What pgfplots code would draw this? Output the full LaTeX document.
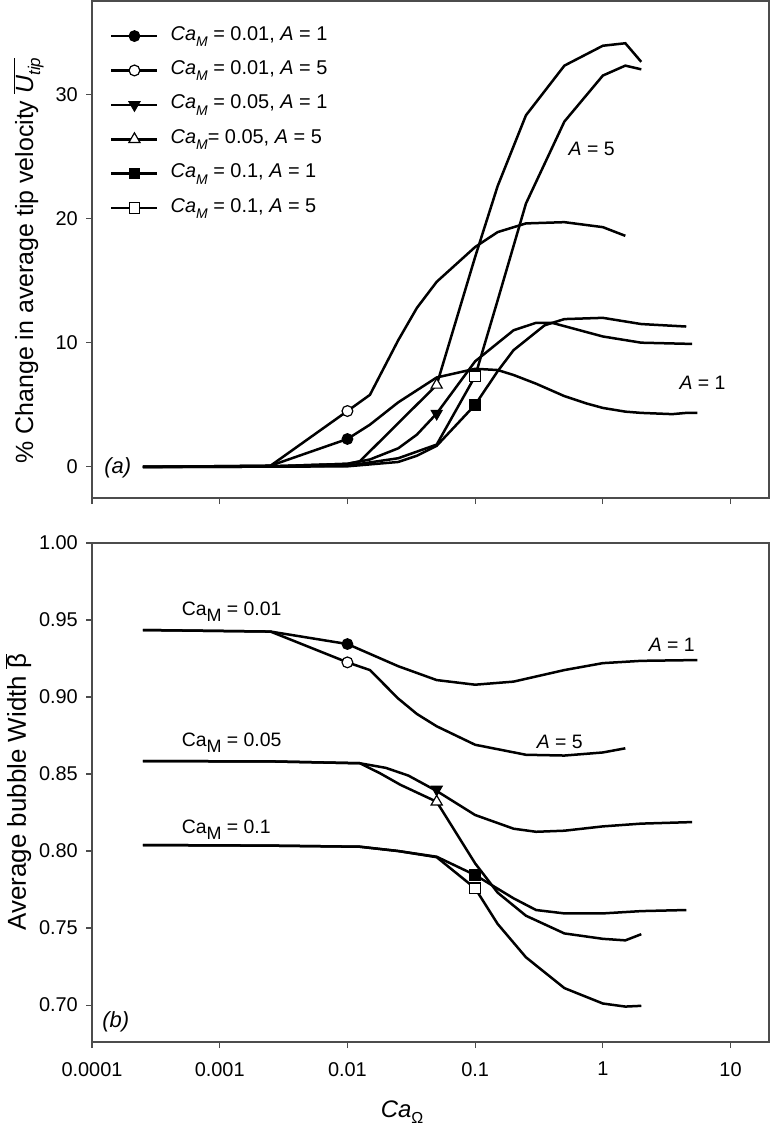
\documentclass[border=0pt]{standalone}
\usepackage{fontspec}
\setmainfont{Liberation Sans}
\usepackage{pgfplots}
\pgfplotsset{compat=1.18}
\newcommand{\lsub}[3]{\raisebox{-#3}{\fontsize{#1}{#1}\selectfont #2}}
\newcommand{\CaMit}{\textit{Ca}\lsub{14}{\textit{M}}{6.5bp}}
\newcommand{\CaMup}{Ca\lsub{18}{M}{6bp}}

\tikzset{
  mkfc/.style={mark=*, mark size=5.4bp, mark options={fill=black, draw=black, line width=1bp}},
  mkoc/.style={mark=*, mark size=5.4bp, mark options={fill=white, draw=black, line width=1.2bp}},
  mkft/.style={mark=triangle*, mark size=6.4bp, mark options={rotate=180, fill=black, draw=black, line width=1bp}},
  mkot/.style={mark=triangle*, mark size=6.4bp, mark options={fill=white, draw=black, line width=1.2bp}},
  mkfs/.style={mark=square*, mark size=5.3bp, mark options={fill=black, draw=black, line width=1bp}},
  mkos/.style={mark=square*, mark size=5.3bp, mark options={fill=white, draw=black, line width=1.2bp}},
}

\begin{document}
\begin{tikzpicture}
\useasboundingbox (0,0) rectangle (770bp,-1128bp);

% ---------------- panel (a) ----------------
\begin{axis}[at={(92bp,-498bp)}, anchor=south west,
  scale only axis, width=677bp, height=497bp,
  xmode=log, xmin=0.0001, xmax=20,
  xtick={0.0001,0.001,0.01,0.1,1,10}, xticklabels={},
  xminorticks=false, yminorticks=false,
  tick pos=left, tick align=outside, major tick length=6bp,
  axis line style={black!70, line width=1.1bp},
  every tick/.style={black!70, line width=1.1bp},
  tick label style={font=\fontsize{20}{22}\selectfont, inner sep=0pt},
  yticklabel style={xshift=-8bp},
  /pgf/number format/assume math mode=true,
  ymin=-2.5, ymax=37.5, ytick={0,10,20,30},
  ylabel={\% Change in average tip velocity $\overline{\mbox{\textit{U}\lsub{17}{\textit{tip}}{7bp}}}$},
  ylabel style={font=\fontsize{25}{30}\selectfont, at={(axis description cs:-0.0871,0.478)}, anchor=base},
  legend image code/.code={\draw[mark repeat=2, mark phase=2, #1] plot coordinates {(0bp,0bp) (23bp,0bp) (46bp,0bp)};},
  legend style={draw=none, fill=none, at={(axis description cs:0.0266,0.950)}, anchor=north west,
    inner sep=0pt, font=\fontsize{20}{22}\selectfont, row sep=14.4bp,
    nodes={inner sep=0pt, text height=14bp, text depth=6bp},
    /tikz/every odd column/.append style={column sep=12bp}},
  legend cell align=left]

\addplot[black, line width=2.5bp, forget plot] coordinates {(0.00025,0) (0.0025,0.1) (0.01,2.25) (0.015,3.4) (0.025,5.2) (0.05,7.2) (0.1,7.9) (0.15,7.8) (0.2,7.4) (0.3,6.7) (0.5,5.7) (0.75,5.1) (1,4.75) (1.5,4.45) (2,4.35) (3.5,4.25) (4.5,4.35) (5.5,4.35)};
\addplot[black, line width=2.5bp, forget plot] coordinates {(0.00025,0) (0.0025,0.1) (0.01,4.5) (0.015,5.8) (0.025,10.2) (0.035,12.8) (0.05,14.9) (0.1,17.7) (0.15,18.9) (0.25,19.6) (0.5,19.7) (1,19.3) (1.5,18.6)};
\addplot[black, line width=2.5bp, forget plot] coordinates {(0.00025,0) (0.0025,0.05) (0.01,0.25) (0.015,0.6) (0.025,1.5) (0.035,2.6) (0.05,4.3) (0.1,8.5) (0.2,11.0) (0.3,11.6) (0.4,11.6) (1,10.5) (2,10.0) (5,9.9)};
\addplot[black, line width=2.5bp, forget plot] coordinates {(0.00025,0) (0.0025,0.05) (0.01,0.25) (0.0125,0.45) (0.05,6.6) (0.1,16.9) (0.15,22.6) (0.25,28.3) (0.5,32.3) (1,33.9) (1.5,34.1) (2,32.6)};
\addplot[black, line width=2.5bp, forget plot] coordinates {(0.00025,0) (0.0025,0.02) (0.01,0.05) (0.025,0.4) (0.035,0.9) (0.05,1.7) (0.1,5.0) (0.15,7.7) (0.2,9.4) (0.35,11.4) (0.5,11.9) (1,12.0) (2,11.5) (4.5,11.3)};
\addplot[black, line width=2.5bp, forget plot] coordinates {(0.00025,0) (0.0025,0.02) (0.01,0.1) (0.025,0.7) (0.05,1.8) (0.1,7.3) (0.15,13.4) (0.25,21.2) (0.5,27.8) (1,31.5) (1.5,32.3) (2,32.0)};

\addplot[only marks, mkfc, forget plot] coordinates {(0.01,2.25)};
\addplot[only marks, mkoc, forget plot] coordinates {(0.01,4.5)};
\addplot[only marks, mkft, forget plot] coordinates {(0.05,4.3)};
\addplot[only marks, mkot, forget plot] coordinates {(0.05,6.6)};
\addplot[only marks, mkfs, forget plot] coordinates {(0.1,5.0)};
\addplot[only marks, mkos, forget plot] coordinates {(0.1,7.3)};

\addlegendimage{black, line width=2.5bp, mkfc}
\addlegendentry{\CaMit{} = 0.01, \textit{A} = 1}
\addlegendimage{black, line width=2.5bp, mkoc}
\addlegendentry{\CaMit{} = 0.01, \textit{A} = 5}
\addlegendimage{black, line width=2.5bp, mkft}
\addlegendentry{\CaMit{} = 0.05, \textit{A} = 1}
\addlegendimage{black, line width=2.5bp, mkot}
\addlegendentry{\CaMit{}= 0.05, \textit{A} = 5}
\addlegendimage{black, line width=2.5bp, mkfs}
\addlegendentry{\CaMit{} = 0.1, \textit{A} = 1}
\addlegendimage{black, line width=2.5bp, mkos}
\addlegendentry{\CaMit{} = 0.1, \textit{A} = 5}

\node[font=\fontsize{19.5}{22}\selectfont] at (axis cs:0.817,25.6) {\textit{A} = 5};
\node[font=\fontsize{19.5}{22}\selectfont] at (axis cs:6.04,6.76) {\textit{A} = 1};
\node[font=\fontsize{22}{26}\selectfont\itshape] at (axis description cs:0.038,0.06) {(a)};
\end{axis}

% ---------------- panel (b) ----------------
\begin{axis}[at={(92bp,-1042bp)}, anchor=south west,
  scale only axis, width=677bp, height=499bp,
  xmode=log, xmin=0.0001, xmax=20,
  xtick={0.0001,0.001,0.01,0.1,1,10},
  xticklabels={0.0001,0.001,0.01,0.1,1,10},
  xminorticks=false, yminorticks=false,
  tick pos=left, tick align=outside, major tick length=6bp,
  axis line style={black!70, line width=1.1bp},
  every tick/.style={black!70, line width=1.1bp},
  tick label style={font=\fontsize{20}{22}\selectfont, inner sep=0pt},
  yticklabel style={xshift=-8bp, /pgf/number format/.cd, fixed, fixed zerofill, precision=2},
  xticklabel style={yshift=-14bp},
  /pgf/number format/assume math mode=true,
  ymin=0.676, ymax=1.0, ytick={0.70,0.75,0.80,0.85,0.90,0.95,1.00},
  xlabel={\textit{Ca}\lsub{16}{Ω}{6bp}},
  xlabel style={font=\fontsize{24}{28}\selectfont, at={(axis description cs:0.458,-0.152)}, anchor=base},
  ylabel={Average bubble Width $\overline{\mbox{β}}$},
  ylabel style={font=\fontsize{26}{30}\selectfont, at={(axis description cs:-0.0975,0.501)}, anchor=base}]

\addplot[black, line width=2.5bp] coordinates {(0.00025,0.9435) (0.0025,0.9425) (0.01,0.9344) (0.025,0.920) (0.05,0.911) (0.1,0.908) (0.2,0.910) (0.5,0.9175) (1,0.922) (2,0.9235) (5.5,0.924)};
\addplot[black, line width=2.5bp] coordinates {(0.00025,0.9435) (0.0025,0.9425) (0.01,0.9225) (0.015,0.9175) (0.025,0.899) (0.035,0.889) (0.05,0.881) (0.1,0.869) (0.25,0.8625) (0.5,0.862) (1,0.864) (1.5,0.8667)};
\addplot[black, line width=2.5bp] coordinates {(0.00025,0.8584) (0.0025,0.8582) (0.0125,0.857) (0.02,0.854) (0.03,0.849) (0.05,0.839) (0.1,0.8234) (0.2,0.8145) (0.3,0.8125) (0.5,0.8132) (1,0.816) (2,0.8178) (5,0.8188)};
\addplot[black, line width=2.5bp] coordinates {(0.00025,0.8584) (0.0025,0.8582) (0.0125,0.857) (0.018,0.8505) (0.026,0.843) (0.05,0.832) (0.1,0.792) (0.15,0.773) (0.25,0.758) (0.5,0.7465) (1,0.743) (1.5,0.742) (2,0.746)};
\addplot[black, line width=2.5bp] coordinates {(0.00025,0.8039) (0.0025,0.8035) (0.0125,0.8028) (0.025,0.800) (0.05,0.7963) (0.1,0.7844) (0.2,0.7693) (0.3,0.7617) (0.5,0.7595) (1,0.7595) (2,0.761) (4.5,0.7617)};
\addplot[black, line width=2.5bp] coordinates {(0.00025,0.8039) (0.0025,0.8035) (0.0125,0.8028) (0.025,0.800) (0.05,0.7960) (0.1,0.7758) (0.15,0.7527) (0.25,0.731) (0.5,0.711) (1,0.701) (1.5,0.699) (2,0.6995)};

\addplot[only marks, mkfc] coordinates {(0.01,0.9344)};
\addplot[only marks, mkoc] coordinates {(0.01,0.9225)};
\addplot[only marks, mkft] coordinates {(0.05,0.840)};
\addplot[only marks, mkot] coordinates {(0.05,0.832)};
\addplot[only marks, mkfs] coordinates {(0.1,0.7844)};
\addplot[only marks, mkos] coordinates {(0.1,0.7758)};

\node[font=\fontsize{19.5}{22}\selectfont, anchor=base west, inner sep=0pt] at (axis cs:0.000503,0.9532) {\CaMup{} = 0.01};
\node[font=\fontsize{19.5}{22}\selectfont, anchor=base west, inner sep=0pt] at (axis cs:0.000503,0.8677) {\CaMup{} = 0.05};
\node[font=\fontsize{19.5}{22}\selectfont, anchor=base west, inner sep=0pt] at (axis cs:0.000503,0.8115) {\CaMup{} = 0.1};
\node[font=\fontsize{19.5}{22}\selectfont, anchor=base west, inner sep=0pt] at (axis cs:2.28,0.9294) {\textit{A} = 1};
\node[font=\fontsize{19.5}{22}\selectfont, anchor=base west, inner sep=0pt] at (axis cs:0.303,0.8667) {\textit{A} = 5};
\node[font=\fontsize{22}{26}\selectfont\itshape] at (axis description cs:0.035,0.04) {(b)};
\end{axis}
\end{tikzpicture}
\end{document}
